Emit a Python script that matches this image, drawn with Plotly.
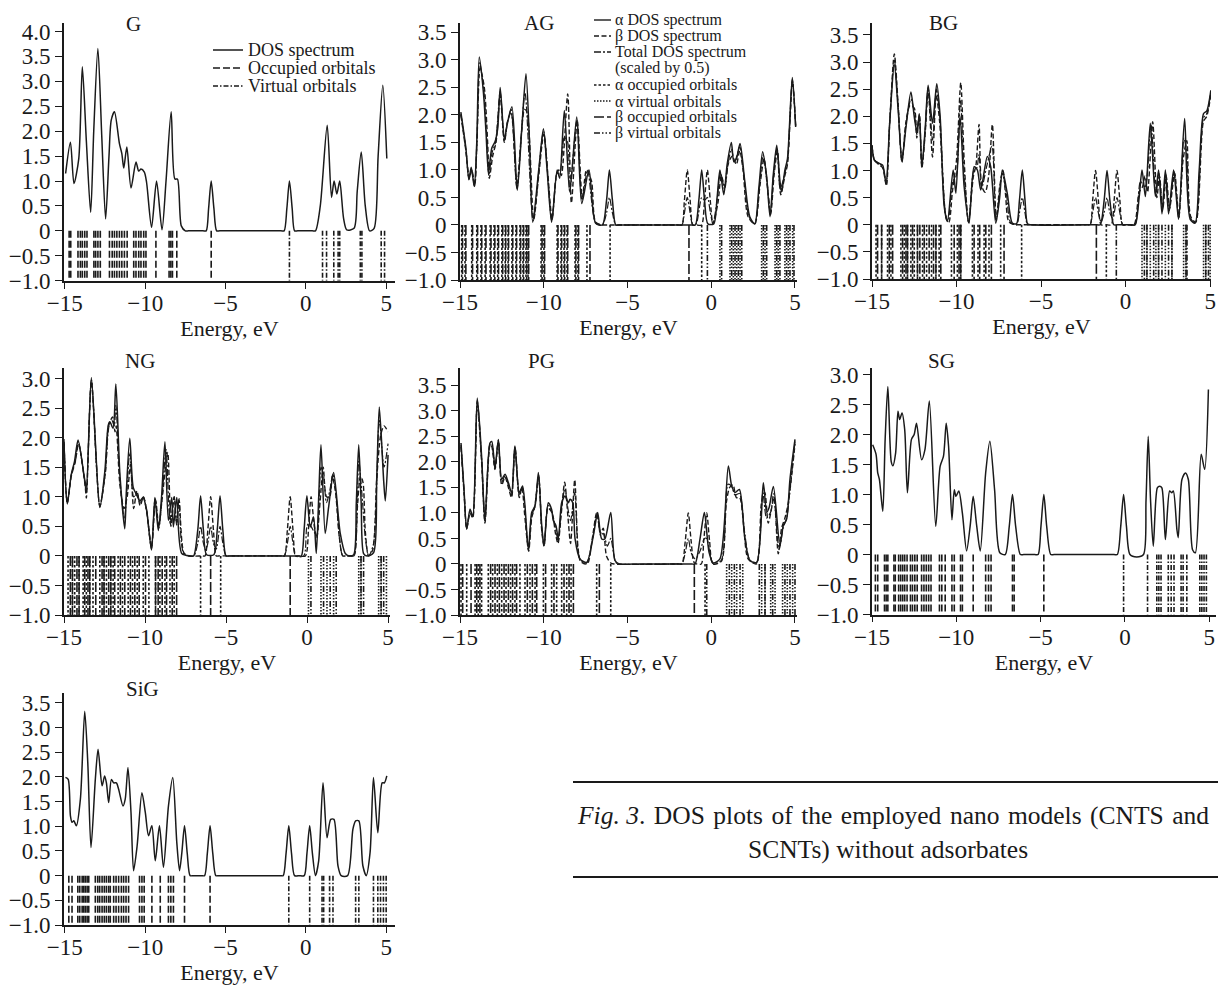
import plotly.graph_objects as go

W, H = 1218, 985
FONT = "Liberation Serif"
INK = "#1a1a1a"

# ---------------- data (energies in eV, DOS in arbitrary units) ----------------
X_TICKS = [-15, -10, -5, 0, 5]
X_TICKTEXT = ["\u221215", "\u221210", "\u22125", "0", "5"]
Y_TICKS = [4.0, 3.5, 3.0, 2.5, 2.0, 1.5, 1.0, 0.5, 0.0, -0.5, -1.0]
Y_TICKTEXT = ["4.0", "3.5", "3.0", "2.5", "2.0", "1.5", "1.0", "0.5", "0",
              "\u22120.5", "\u22121.0"]

# --- G ---
G_dos = [(-14.95, 1.15), (-14.65, 1.78), (-14.43, 0.95), (-14.13, 1.45), (-13.91, 3.29),
         (-13.66, 1.81), (-13.39, 0.37), (-13.2, 2.0), (-12.94, 3.66), (-12.7, 1.9),
         (-12.46, 0.24), (-12.25, 1.5), (-12.11, 2.22), (-11.91, 2.39), (-11.6, 1.75),
         (-11.45, 1.55), (-11.33, 1.26), (-11.14, 1.68), (-10.88, 0.86), (-10.57, 1.38),
         (-10.40, 1.2), (-10.26, 1.24), (-10.05, 1.18), (-9.91, 0.97), (-9.6, 0.07),
         (-9.29, 1.0), (-8.95, 0.02), (-8.7, 1.0), (-8.38, 2.39), (-8.15, 1.04),
         (-7.99, 1.04), (-7.75, 0.1), (-7.5, 0.0), (-7.3, 0.0), (-6.4, 0.0), (-6.2, 0.0),
         (-6.05, 0.45), (-5.89, 1.0), (-5.72, 0.45), (-5.55, 0.0), (-5.35, 0.0),
         (-1.55, 0.0), (-1.35, 0.0), (-1.18, 0.45), (-1.02, 1.0), (-0.85, 0.45),
         (-0.7, 0.0), (-0.5, 0.0), (0.4, 0.0), (0.6, 0.0), (0.9, 0.5),
         (1.33, 2.12), (1.6, 0.67), (1.76, 1.0), (1.93, 0.74), (2.11, 1.0),
         (2.35, 0.25), (2.55, 0.02), (3.0, 0.05), (3.2, 0.8), (3.45, 1.58),
         (3.7, 0.5), (3.97, 0.0), (4.25, 0.05), (4.5, 1.5), (4.79, 2.92), (5.04, 1.45)]
G_occ = [-14.73, -14.63, -14.18, -14.03, -13.91, -13.76, -13.62, -13.19, -13.08, -12.94,
         -12.79, -12.22, -12.05, -11.91, -11.76, -11.60, -11.45, -11.29, -11.12, -10.71,
         -10.57, -10.40, -10.26, -10.09, -9.95, -9.33, -8.51, -8.40, -8.30, -8.03, -5.89]
G_virt = [-1.02, 1.04, 1.29, 1.74, 2.01, 2.11, 3.39, 3.49, 4.69, 4.90]

# --- AG ---
AG_alpha = [(-14.95, 2.05), (-14.65, 1.4), (-14.47, 0.82), (-14.33, 1.05), (-14.15, 0.7),
            (-14.0, 1.5), (-13.85, 3.05), (-13.6, 2.4), (-13.45, 1.7), (-13.3, 0.95),
            (-13.1, 1.4), (-12.9, 1.52), (-12.75, 1.75), (-12.6, 2.5), (-12.35, 1.55),
            (-12.2, 1.8), (-11.9, 2.15), (-11.58, 0.63), (-11.3, 1.8), (-11.06, 2.75),
            (-10.85, 1.5), (-10.66, 0.05), (-10.3, 1.0), (-10.02, 1.75), (-9.8, 1.0),
            (-9.53, 0.05), (-9.2, 1.0), (-9.05, 0.85), (-8.77, 2.08), (-8.45, 0.6),
            (-8.03, 1.96), (-7.73, 0.39), (-7.3, 1.0), (-6.9, 0.03), (-6.5, 0.0),
            (-6.25, 0.45), (-6.08, 1.0), (-5.9, 0.45), (-5.7, 0.0), (-5.5, 0.0),
            (-1.15, 0.0), (-0.95, 0.0),
            (-0.74, 0.45), (-0.57, 1.0), (-0.4, 0.45), (-0.2, 0.02), (0.15, 0.02),
            (0.35, 0.5), (0.52, 1.0), (0.75, 0.55), (0.95, 1.1), (1.2, 1.5),
            (1.35, 1.15), (1.5, 1.2), (1.72, 1.48), (2.0, 0.8), (2.3, 0.15),
            (2.6, 0.02), (2.85, 0.7), (3.07, 1.33), (3.3, 0.9), (3.51, 0.15),
            (3.7, 0.9), (3.91, 1.45), (4.1, 0.8), (4.2, 0.6), (4.4, 1.0),
            (4.55, 1.2), (4.84, 2.68), (5.04, 1.78)]
AG_beta = [(-14.95, 2.0), (-14.65, 1.35), (-14.45, 0.85), (-14.3, 1.0), (-14.12, 0.72),
           (-13.98, 1.6), (-13.8, 2.85), (-13.55, 2.5), (-13.35, 1.5), (-13.25, 0.85),
           (-13.05, 1.25), (-12.85, 1.5), (-12.6, 2.35), (-12.35, 1.5), (-12.15, 1.9),
           (-11.95, 2.05), (-11.6, 0.7), (-11.35, 1.6), (-11.15, 2.1), (-11.0, 2.05),
           (-10.6, 0.1), (-10.3, 0.9), (-10.0, 1.65), (-9.75, 0.9), (-9.5, 0.1),
           (-9.25, 0.9), (-9.1, 1.0), (-8.95, 0.9), (-8.57, 2.38), (-8.35, 0.4),
           (-8.0, 1.9), (-7.7, 0.5), (-7.45, 1.0), (-7.15, 0.8), (-6.9, 0.05),
           (-6.5, 0.0), (-6.3, 0.0), (-1.95, 0.0), (-1.75, 0.0), (-1.6, 0.45),
           (-1.43, 1.0), (-1.26, 0.45), (-1.1, 0.0), (-0.9, 0.0), (-0.58, 0.0),
           (-0.4, 0.45), (-0.23, 1.0), (-0.06, 0.45),
           (0.1, 0.02), (0.4, 0.4), (0.6, 0.9), (0.8, 0.7), (1.0, 1.1),
           (1.25, 1.25), (1.5, 1.1), (1.7, 1.35), (1.9, 1.0), (2.2, 0.15),
           (2.6, 0.02), (2.9, 0.7), (3.15, 1.2), (3.35, 0.7), (3.55, 0.2),
           (3.75, 0.9), (3.95, 1.35), (4.15, 0.55), (4.4, 0.9), (4.55, 1.1),
           (4.85, 2.6), (5.04, 1.8)]
AG_total = [(-14.95, 2.02), (-14.65, 1.38), (-14.46, 0.83), (-14.32, 1.02), (-14.13, 0.7),
            (-13.98, 1.55), (-13.83, 2.95), (-13.58, 2.45), (-13.4, 1.6), (-13.28, 0.9),
            (-13.08, 1.32), (-12.88, 1.5), (-12.6, 2.42), (-12.35, 1.52), (-12.18, 1.85),
            (-11.95, 2.1), (-11.6, 0.66), (-11.12, 2.4), (-10.63, 0.08), (-10.01, 1.7),
            (-9.52, 0.08), (-9.2, 0.95), (-9.05, 0.9), (-8.77, 1.6), (-8.57, 1.5),
            (-8.45, 0.6), (-8.02, 1.9), (-7.72, 0.45), (-7.38, 1.0), (-6.9, 0.04),
            (-6.5, 0.0), (-6.25, 0.22), (-6.08, 0.5), (-5.9, 0.22), (-5.7, 0.0),
            (-5.5, 0.0), (-1.95, 0.0),
            (-1.75, 0.0), (-1.6, 0.22), (-1.43, 0.5), (-1.26, 0.22), (-1.1, 0.0),
            (-0.9, 0.02), (-0.57, 0.5), (-0.4, 0.45), (-0.23, 0.5), (-0.05, 0.22),
            (0.1, 0.02), (0.35, 0.45), (0.55, 0.95), (0.8, 0.65), (1.0, 1.1),
            (1.2, 1.38), (1.4, 1.15), (1.7, 1.42), (1.95, 0.9), (2.25, 0.15),
            (2.6, 0.02), (2.88, 0.7), (3.1, 1.27), (3.33, 0.8), (3.53, 0.18),
            (3.72, 0.9), (3.93, 1.4), (4.12, 0.65), (4.4, 0.95), (4.55, 1.15),
            (4.84, 2.64), (5.04, 1.79)]
AG_a_occ = [-14.9, -14.7, -14.3, -14.0, -13.75, -13.5, -13.2, -12.97, -12.75, -12.5,
            -12.3, -12.13, -11.9, -11.66, -11.42, -11.24, -11.06, -10.94, -10.16, -9.99,
            -9.2, -8.97, -8.79, -8.61, -8.13, -7.96, -7.42, -6.04, -0.57]
AG_a_virt = [0.52, 1.12, 1.32, 1.52, 1.72, 3.01, 3.21, 3.81, 4.0, 4.4, 4.6, 4.86]
AG_b_occ = [-14.85, -14.65, -14.25, -13.95, -13.7, -13.45, -13.15, -12.92, -12.7, -12.45,
            -12.27, -12.1, -11.85, -11.62, -11.38, -11.2, -11.02, -10.9, -10.1, -9.95,
            -9.15, -8.93, -8.75, -8.57, -8.08, -7.92, -7.24, -1.33]
AG_b_virt = [-0.23, 0.62, 1.22, 1.42, 1.62, 1.82, 3.11, 3.31, 3.91, 4.1, 4.5, 4.7, 4.94]

# --- BG ---
BG_alpha = [(-15.0, 1.47), (-14.86, 1.19), (-14.57, 1.13), (-14.37, 1.1), (-14.17, 0.77),
            (-13.95, 1.9), (-13.68, 2.95), (-13.45, 2.1), (-13.23, 1.19), (-12.99, 1.8),
            (-12.7, 2.45), (-12.5, 1.99), (-12.35, 1.72), (-12.2, 2.02), (-12.05, 1.07),
            (-11.85, 1.8), (-11.68, 2.57), (-11.42, 1.87), (-11.17, 2.6), (-10.97, 2.0),
            (-10.73, 0.34), (-10.54, 0.06), (-10.2, 1.01), (-10.04, 0.58), (-9.79, 2.0),
            (-9.55, 0.7), (-9.26, 0.03), (-8.96, 1.07), (-8.77, 1.01), (-8.57, 0.64),
            (-8.18, 1.26), (-7.98, 1.07), (-7.68, 0.03), (-7.45, 0.5), (-7.29, 1.01),
            (-7.0, 0.58), (-6.7, 0.03), (-6.45, 0.02), (-6.28, 0.45), (-6.11, 1.01),
            (-5.95, 0.45), (-5.8, 0.02), (-5.6, 0.0), (-1.7, 0.0), (-1.5, 0.0),
            (-1.27, 0.45), (-1.1, 1.0), (-0.93, 0.45), (-0.7, 0.0), (-0.5, 0.0),
            (0.37, 0.0), (0.57, 0.0), (0.8, 0.5), (0.97, 1.01),
            (1.17, 0.52), (1.46, 1.87), (1.76, 0.52), (1.95, 1.01), (2.15, 0.2),
            (2.35, 1.01), (2.54, 0.2), (2.84, 1.01), (3.13, 0.1), (3.49, 1.96),
            (3.82, 0.1), (4.11, 0.03), (4.35, 1.0), (4.61, 2.05), (4.8, 2.1), (5.04, 2.48)]
BG_beta = [(-15.0, 1.45), (-14.86, 1.2), (-14.57, 1.1), (-14.37, 1.05), (-14.15, 0.72),
           (-13.95, 1.9), (-13.68, 3.15), (-13.45, 2.2), (-13.23, 1.15), (-12.99, 1.9),
           (-12.75, 2.2), (-12.5, 2.15), (-12.35, 1.6), (-12.2, 2.05), (-12.05, 1.05),
           (-11.85, 1.7), (-11.68, 2.5), (-11.42, 1.25), (-11.2, 2.4), (-11.0, 1.9),
           (-10.6, 0.1), (-10.45, 0.05), (-10.25, 0.6), (-10.0, 1.2), (-9.75, 2.62),
           (-9.55, 1.2), (-9.3, 0.05), (-9.0, 0.9), (-8.85, 1.1), (-8.67, 1.85),
           (-8.5, 0.7), (-8.3, 0.6), (-8.1, 0.9), (-7.88, 1.85), (-7.65, 0.1),
           (-7.45, 0.7), (-7.25, 1.0), (-7.1, 0.55), (-6.9, 0.05), (-6.5, 0.0),
           (-6.3, 0.0), (-2.3, 0.0),
           (-2.1, 0.0), (-1.95, 0.45), (-1.78, 1.0), (-1.61, 0.45), (-1.45, 0.0),
           (-1.15, 0.0),
           (-0.85, 0.0), (-0.68, 0.45), (-0.51, 1.0), (-0.34, 0.45), (-0.17, 0.0),
           (0.15, 0.0),
           (0.5, 0.0), (0.8, 0.6), (1.0, 0.7), (1.15, 0.9), (1.3, 0.6), (1.6, 1.9),
           (1.85, 0.5), (2.0, 0.9), (2.2, 0.3), (2.4, 0.9), (2.6, 0.3), (2.9, 0.95),
           (3.15, 0.15), (3.4, 1.2), (3.62, 1.55), (3.85, 0.15), (4.15, 0.05),
           (4.6, 1.9), (4.8, 2.0), (5.04, 2.4)]
BG_total = [(-15.0, 1.46), (-14.86, 1.2), (-14.57, 1.12), (-14.37, 1.08), (-14.16, 0.75),
            (-13.95, 1.9), (-13.68, 3.05), (-13.45, 2.15), (-13.23, 1.17), (-12.99, 1.85),
            (-12.7, 2.32), (-12.5, 2.07), (-12.35, 1.66), (-12.2, 2.03), (-12.05, 1.06),
            (-11.85, 1.75), (-11.68, 2.53), (-11.42, 1.56), (-11.19, 2.5), (-10.98, 1.95),
            (-10.65, 0.2), (-10.5, 0.06), (-10.22, 0.8), (-10.02, 0.9), (-9.77, 2.3),
            (-9.55, 0.95), (-9.28, 0.04), (-8.98, 1.0), (-8.8, 1.05), (-8.67, 1.3),
            (-8.52, 0.67), (-8.2, 1.1), (-7.9, 1.45), (-7.66, 0.06), (-7.3, 0.95),
            (-7.05, 0.57), (-6.8, 0.04), (-6.45, 0.0), (-6.28, 0.22), (-6.11, 0.5),
            (-5.95, 0.22), (-5.8, 0.0), (-5.6, 0.0), (-2.3, 0.0),
            (-2.1, 0.0), (-1.95, 0.22), (-1.78, 0.5),
            (-1.61, 0.22), (-1.45, 0.05), (-1.27, 0.22), (-1.1, 0.5), (-0.93, 0.22),
            (-0.75, 0.12), (-0.51, 0.5), (-0.34, 0.22), (-0.17, 0.0), (0.2, 0.0),
            (0.55, 0.0),
            (0.88, 0.8), (1.15, 0.7), (1.5, 1.85), (1.78, 0.55), (1.97, 0.95),
            (2.18, 0.25), (2.37, 0.95), (2.57, 0.25), (2.87, 0.98), (3.14, 0.12),
            (3.45, 1.6), (3.62, 1.3), (3.84, 0.12), (4.13, 0.04), (4.6, 1.97),
            (4.8, 2.05), (5.04, 2.44)]
BG_a_occ = [-14.76, -14.43, -14.08, -13.88, -13.29, -13.09, -12.9, -12.7, -12.5, -12.31,
            -12.01, -11.77, -11.48, -11.22, -11.03, -10.3, -9.95, -9.75, -9.06, -8.73,
            -8.37, -8.08, -7.39, -6.15, -1.14]
BG_a_virt = [0.97, 1.26, 1.46, 1.79, 1.95, 2.35, 2.74, 3.43, 3.57, 4.61, 4.74, 5.0]
BG_b_occ = [-14.67, -14.43, -13.98, -13.78, -13.19, -12.99, -12.9, -12.6, -12.31, -12.17,
            -11.91, -11.62, -11.36, -11.22, -10.93, -10.14, -9.85, -9.75, -8.96, -8.63,
            -8.27, -7.94, -7.19, -1.73]
BG_b_virt = [-0.55, 1.11, 1.26, 1.66, 1.95, 2.15, 2.54, 2.74, 3.57, 3.63, 4.74, 4.9]

# --- NG ---
NG_alpha = [(-15.0, 1.93), (-14.8, 0.88), (-14.55, 1.38), (-14.35, 1.6), (-14.13, 1.96),
            (-13.74, 1.32), (-13.62, 1.16), (-13.31, 3.02), (-12.79, 0.82), (-12.48, 1.43),
            (-12.27, 2.21), (-12.17, 2.27), (-11.97, 2.16), (-11.8, 2.91), (-11.55, 1.38),
            (-11.25, 0.46), (-11.15, 1.1), (-10.94, 1.99), (-10.73, 1.16), (-10.53, 1.04),
            (-10.32, 0.93), (-10.12, 0.99), (-9.91, 0.79), (-9.6, 0.1), (-9.39, 0.99),
            (-9.18, 0.43), (-8.98, 0.99), (-8.77, 1.93), (-8.56, 0.6), (-8.35, 0.99),
            (-8.25, 0.49), (-8.04, 0.99), (-7.73, 0.04), (-7.2, 0.0), (-7.0, 0.0),
            (-6.74, 0.45),
            (-6.57, 1.02), (-6.4, 0.45), (-6.2, 0.02), (-5.75, 0.02), (-5.54, 0.45),
            (-5.37, 1.02), (-5.2, 0.45), (-5.0, 0.0), (-4.8, 0.0), (-0.55, 0.0),
            (-0.35, 0.0), (-0.18, 0.45),
            (-0.01, 1.02), (0.2, 0.49), (0.4, 0.66), (0.57, 0.04), (0.72, 1.0),
            (0.86, 1.88), (1.12, 0.38), (1.33, 0.82), (1.64, 1.41), (2.05, 0.38),
            (2.36, 0.04), (2.6, 0.0), (2.88, 0.02), (3.04, 0.9), (3.19, 1.88), (3.34, 0.9),
            (3.49, 0.04), (3.7, 0.0), (4.1, 0.05), (4.3, 1.3), (4.46, 2.52), (4.73, 1.27),
            (4.83, 0.93), (5.0, 1.71)]
NG_beta = [(-15.0, 1.9), (-14.8, 0.9), (-14.55, 1.35), (-14.3, 1.6), (-14.1, 1.9),
           (-13.7, 1.2), (-13.62, 0.98), (-13.31, 2.95), (-12.79, 0.85), (-12.45, 1.4),
           (-12.25, 2.2), (-12.0, 2.35), (-11.85, 2.1), (-11.78, 2.2), (-11.55, 1.2),
           (-11.3, 0.8), (-11.1, 1.0), (-10.9, 1.55), (-10.7, 0.8), (-10.5, 1.1),
           (-10.3, 0.85), (-10.1, 1.0), (-9.9, 0.75), (-9.6, 0.15), (-9.35, 0.95),
           (-9.15, 0.5), (-8.95, 0.95), (-8.6, 1.75), (-8.4, 0.5), (-8.2, 1.0),
           (-8.05, 0.55), (-7.9, 0.95), (-7.6, 0.05), (-7.3, 0.0), (-6.5, 0.0), (-6.3, 0.0),
           (-6.12, 0.45), (-5.95, 1.0), (-5.78, 0.45), (-5.6, 0.0), (-5.4, 0.0),
           (-1.6, 0.0), (-1.4, 0.0),
           (-1.21, 0.45), (-1.04, 1.0), (-0.87, 0.45), (-0.7, 0.0), (-0.5, 0.0),
           (-0.1, 0.0),
           (0.1, 0.5), (0.25, 1.0), (0.45, 0.5), (0.6, 0.3), (0.8, 0.9), (1.0, 1.5),
           (1.2, 1.0), (1.4, 1.0), (1.55, 1.35), (1.75, 1.1), (2.0, 0.3), (2.2, 0.0),
           (2.4, 0.0), (2.7, 0.0),
           (2.9, 0.0), (3.1, 0.8), (3.3, 1.35), (3.45, 1.25), (3.6, 0.4), (3.8, 0.0),
           (4.05, 0.1), (4.3, 1.3), (4.55, 2.05), (4.75, 2.2), (5.0, 2.1)]
NG_total = [(-15.0, 1.98), (-14.8, 0.89), (-14.55, 1.37), (-14.3, 1.6), (-14.12, 1.93),
            (-13.72, 1.25), (-13.62, 1.07), (-13.31, 2.98), (-12.79, 0.83), (-12.45, 1.42),
            (-12.22, 2.2), (-12.05, 2.3), (-11.9, 2.2), (-11.8, 2.55), (-11.55, 1.3),
            (-11.27, 0.63), (-10.94, 1.75), (-10.7, 1.0), (-10.5, 1.07), (-10.3, 0.9),
            (-10.1, 1.0), (-9.9, 0.77), (-9.6, 0.12), (-9.38, 0.97), (-9.15, 0.47),
            (-8.95, 0.97), (-8.7, 1.8), (-8.45, 0.55), (-8.2, 1.0), (-8.05, 0.52),
            (-7.9, 0.97), (-7.6, 0.04), (-7.0, 0.0), (-6.74, 0.22), (-6.57, 0.5),
            (-6.4, 0.22), (-6.25, 0.1), (-6.12, 0.22), (-5.95, 0.5), (-5.78, 0.22),
            (-5.6, 0.12), (-5.37, 0.5), (-5.2, 0.22), (-5.0, 0.0), (-4.8, 0.0),
            (-1.6, 0.0), (-1.4, 0.0),
            (-1.21, 0.22), (-1.04, 0.5), (-0.87, 0.22), (-0.7, 0.0), (-0.2, 0.0),
            (-0.01, 0.5), (0.12, 0.55), (0.25, 0.5), (0.45, 0.4), (0.6, 0.35),
            (0.86, 1.5), (1.0, 1.4), (1.2, 0.9), (1.4, 1.1), (1.6, 1.38), (1.8, 1.0),
            (2.0, 0.3), (2.2, 0.0), (2.4, 0.0), (2.7, 0.0), (2.9, 0.0), (3.19, 1.6),
            (3.4, 1.0), (3.6, 0.3),
            (3.8, 0.0), (4.1, 0.2), (4.46, 2.3), (4.75, 1.5), (5.0, 1.9)]
NG_a_occ = [-14.75, -14.48, -14.34, -14.07, -13.82, -13.62, -13.41, -13.21, -12.79, -12.53,
            -12.38, -12.11, -11.97, -11.66, -11.39, -11.04, -10.77, -10.48, -10.11, -9.76,
            -9.35, -9.08, -8.77, -8.46, -8.2, -6.57, -5.33]
NG_a_virt = [0.09, 0.86, 1.23, 1.64, 3.19, 3.33, 4.42, 4.57, 4.9]
NG_b_occ = [-14.61, -14.48, -14.2, -14.07, -13.72, -13.52, -13.41, -13.04, -12.65, -12.53,
            -12.24, -12.11, -11.87, -11.52, -11.25, -10.9, -10.63, -10.36, -9.97, -9.35,
            -9.19, -8.94, -8.67, -8.32, -8.05, -5.95, -1.04]
NG_b_virt = [0.24, 1.02, 1.43, 1.8, 3.33, 3.49, 4.57, 4.73]

# --- PG ---
PG_alpha = [(-14.94, 2.37), (-14.76, 1.46), (-14.6, 0.68), (-14.4, 1.07), (-14.24, 0.94),
            (-13.97, 3.25), (-13.71, 2.11), (-13.51, 0.85), (-13.21, 2.37), (-13.1, 2.4),
            (-12.91, 1.89), (-12.71, 2.44), (-12.51, 1.66), (-12.31, 1.76), (-12.11, 1.59),
            (-11.92, 1.4), (-11.72, 2.31), (-11.46, 1.4), (-11.26, 1.53), (-10.92, 0.29),
            (-10.72, 1.01), (-10.52, 1.14), (-10.32, 1.79), (-10.12, 0.75), (-9.98, 0.36),
            (-9.73, 1.2), (-9.53, 1.07), (-9.43, 0.85), (-9.27, 0.75), (-9.13, 0.49),
            (-8.93, 1.2), (-8.73, 1.33), (-8.53, 1.2), (-8.43, 1.27), (-8.27, 1.2),
            (-8.13, 0.49), (-7.84, 0.1), (-7.44, 0.03), (-7.04, 0.55), (-6.78, 1.01),
            (-6.54, 0.49), (-6.35, 0.49), (-6.0, 1.01), (-5.75, 0.07), (-5.5, 0.0),
            (-4.65, 0.0), (-1.17, 0.0),
            (-0.97, 0.0), (-0.67, 0.49), (-0.41, 1.01), (-0.13, 0.23), (0.12, 0.02),
            (0.52, 0.1), (1.02, 1.92), (1.22, 1.53), (1.42, 1.4), (1.68, 1.46),
            (2.01, 0.49), (2.31, 0.07), (2.71, 0.03), (3.11, 1.59), (3.31, 1.01),
            (3.45, 1.1), (3.71, 1.52), (4.1, 0.36), (4.3, 0.75), (4.5, 0.88),
            (4.7, 1.66), (5.0, 2.44)]
PG_beta = [(-14.94, 2.3), (-14.76, 1.4), (-14.6, 0.7), (-14.4, 1.0), (-14.24, 0.9),
           (-13.97, 3.15), (-13.71, 2.0), (-13.51, 0.8), (-13.2, 2.35), (-13.1, 2.3),
           (-12.91, 1.85), (-12.71, 2.4), (-12.51, 1.55), (-12.31, 1.7), (-12.11, 1.5),
           (-11.92, 1.3), (-11.72, 2.3), (-11.46, 1.3), (-11.3, 1.5), (-11.15, 1.0),
           (-10.9, 0.25), (-10.72, 0.9), (-10.55, 1.1), (-10.3, 1.7), (-10.12, 0.65),
           (-9.98, 0.35), (-9.75, 1.1), (-9.5, 1.0), (-9.3, 0.6), (-9.15, 0.4),
           (-8.95, 1.0), (-8.75, 1.6), (-8.55, 0.9), (-8.4, 0.4), (-8.15, 1.65),
           (-7.95, 0.3), (-7.8, 0.05), (-7.4, 0.0), (-7.1, 0.5), (-6.84, 1.0),
           (-6.6, 0.6), (-6.45, 0.7), (-6.25, 0.15), (-6.0, 0.02), (-5.8, 0.0),
           (-1.95, 0.0), (-1.75, 0.0),
           (-1.55, 0.45), (-1.37, 1.0), (-1.2, 0.45), (-1.0, 0.02), (-0.6, 0.0),
           (-0.45, 0.45), (-0.27, 1.0), (-0.1, 0.45), (0.1, 0.0), (0.6, 0.05),
           (0.9, 1.2), (1.1, 1.5), (1.3, 1.55), (1.5, 1.3), (1.7, 1.3), (1.95, 0.7),
           (2.2, 0.1), (2.7, 0.0), (3.0, 1.2), (3.2, 1.4), (3.4, 0.8), (3.55, 1.0),
           (3.75, 1.3), (4.0, 0.2), (4.2, 0.7), (4.4, 0.9), (4.6, 1.2), (5.0, 2.35)]
PG_total = [(-14.94, 2.33), (-14.76, 1.43), (-14.6, 0.69), (-14.4, 1.03), (-14.24, 0.92),
            (-13.97, 3.2), (-13.71, 2.05), (-13.51, 0.84), (-13.2, 2.36), (-13.1, 2.35),
            (-12.91, 1.87), (-12.71, 2.42), (-12.51, 1.6), (-12.31, 1.73), (-12.11, 1.55),
            (-11.92, 1.35), (-11.72, 2.3), (-11.46, 1.35), (-11.28, 1.5), (-10.91, 0.27),
            (-10.72, 0.95), (-10.53, 1.12), (-10.31, 1.75), (-10.12, 0.7), (-9.98, 0.35),
            (-9.74, 1.15), (-9.52, 1.03), (-9.28, 0.67), (-9.14, 0.45), (-8.94, 1.1),
            (-8.74, 1.47), (-8.54, 1.05), (-8.4, 0.85), (-8.15, 1.4), (-7.95, 0.25),
            (-7.8, 0.07), (-7.44, 0.02), (-7.07, 0.52), (-6.82, 1.0), (-6.6, 0.55),
            (-6.45, 0.6), (-6.2, 0.35), (-6.0, 0.5), (-5.85, 0.25), (-5.7, 0.03),
            (-5.5, 0.0), (-1.95, 0.0),
            (-1.75, 0.0), (-1.55, 0.22), (-1.37, 0.5), (-1.2, 0.22), (-0.95, 0.1),
            (-0.67, 0.25), (-0.41, 0.5), (-0.27, 0.5), (-0.1, 0.25), (0.1, 0.01),
            (0.6, 0.07), (1.0, 1.56), (1.22, 1.52), (1.42, 1.35), (1.68, 1.38),
            (2.0, 0.6), (2.3, 0.08), (2.7, 0.02), (3.08, 1.4), (3.3, 0.9), (3.55, 1.02),
            (3.72, 1.38), (4.05, 0.28), (4.3, 0.72), (4.5, 0.89), (4.7, 1.45), (5.0, 2.4)]
PG_a_occ = [-14.94, -14.6, -14.1, -13.91, -13.71, -13.31, -13.05, -12.77, -12.51, -12.25,
            -11.98, -11.72, -11.42, -11.12, -10.82, -10.52, -10.02, -9.53, -9.23, -8.93,
            -8.63, -8.37, -6.84, -6.0, -0.37]
PG_a_virt = [0.92, 1.22, 1.52, 1.88, 3.01, 3.21, 3.55, 3.81, 4.26, 4.54, 4.86]
PG_b_occ = [-14.84, -14.34, -14.0, -13.81, -13.17, -12.91, -12.65, -12.37, -12.11, -11.86,
            -11.62, -10.98, -10.68, -10.42, -9.89, -9.39, -8.79, -8.49, -8.23, -6.68, -1.01]
PG_b_virt = [-0.27, 1.08, 1.38, 1.72, 2.87, 3.21, 3.67, 4.4, 4.7, 5.0]

# --- SG ---
SG_dos = [(-14.96, 1.83), (-14.76, 1.67), (-14.66, 1.36), (-14.56, 1.25), (-14.36, 0.72),
          (-14.22, 1.92), (-14.06, 2.8), (-13.86, 1.55), (-13.76, 1.48), (-13.6, 1.69),
          (-13.46, 2.39), (-13.36, 2.25), (-13.22, 2.36), (-13.06, 2.08), (-12.9, 1.03),
          (-12.66, 1.92), (-12.5, 2.0), (-12.36, 2.19), (-12.06, 1.58), (-11.86, 1.75),
          (-11.6, 2.56), (-11.22, 0.47), (-10.96, 1.47), (-10.76, 1.64), (-10.6, 2.19),
          (-10.46, 1.81), (-10.26, 0.58), (-10.12, 1.08), (-10.02, 0.97), (-9.85, 1.06),
          (-9.64, 0.69), (-9.39, 0.06), (-9.17, 0.5), (-9.0, 0.97), (-8.8, 0.5),
          (-8.58, 0.06), (-8.26, 1.36), (-8.01, 1.89), (-7.73, 1.08), (-7.42, 0.03),
          (-7.1, 0.0), (-6.86, 0.47), (-6.67, 1.0), (-6.48, 0.47), (-6.2, 0.0),
          (-6.0, 0.0), (-5.35, 0.0),
          (-5.15, 0.0), (-4.98, 0.47), (-4.81, 1.0), (-4.64, 0.47), (-4.4, 0.0),
          (-4.2, 0.0), (-0.65, 0.0),
          (-0.45, 0.0), (-0.25, 0.47), (-0.08, 1.0), (0.09, 0.47), (0.3, 0.0),
          (0.7, -0.04), (1.1, 0.0), (1.25, 0.9), (1.38, 1.97), (1.52, 0.9),
          (1.68, 0.14), (1.92, 1.11), (2.06, 1.14), (2.19, 1.11), (2.4, 0.25),
          (2.65, 1.06), (2.77, 1.03), (2.87, 1.06), (3.08, 0.42), (3.16, 0.28),
          (3.38, 1.25), (3.59, 1.36), (3.76, 1.25), (4.01, 0.08), (4.18, 0.03),
          (4.52, 1.67), (4.73, 1.42), (4.95, 2.75)]
SG_occ = [-14.8, -14.66, -14.26, -14.16, -14.06, -13.7, -13.62, -13.42, -13.3, -13.18,
          -13.06, -12.92, -12.72, -12.6, -12.46, -12.32, -12.06, -11.92, -11.78, -11.64,
          -11.5, -11.0, -10.86, -10.66, -10.26, -10.12, -9.75, -9.64, -9.0, -8.26, -8.09,
          -7.94, -6.67, -6.57, -4.81]
SG_virt = [-0.08, 1.34, 1.89, 2.01, 2.14, 2.57, 2.74, 2.91, 3.33, 3.45, 3.67, 4.44,
           4.56, 4.69, 4.83]

# --- SiG ---
SiG_dos = [(-14.96, 1.99), (-14.79, 1.95), (-14.65, 1.21), (-14.55, 1.08), (-14.44, 1.11),
           (-14.28, 1.01), (-14.03, 1.55), (-13.76, 3.33), (-13.57, 2.29), (-13.37, 0.57),
           (-13.1, 1.95), (-12.93, 2.56), (-12.68, 1.82), (-12.52, 2.02), (-12.41, 1.88),
           (-12.27, 1.48), (-12.1, 1.95), (-11.96, 1.88), (-11.79, 1.88), (-11.65, 1.75),
           (-11.38, 1.41), (-11.24, 1.55), (-11.07, 2.19), (-10.88, 1.28), (-10.72, 0.1),
           (-10.5, 0.6), (-10.2, 1.68), (-9.99, 1.28), (-9.79, 0.81), (-9.58, 1.01),
           (-9.37, 0.3), (-9.11, 1.01), (-8.86, 0.17), (-8.55, 1.41), (-8.28, 1.99),
           (-8.03, 0.67), (-7.86, 0.1), (-7.72, 0.45), (-7.55, 1.01), (-7.38, 0.45),
           (-7.2, 0.0), (-7.0, 0.0), (-6.5, 0.0), (-6.3, 0.0), (-6.13, 0.45),
           (-5.96, 1.01), (-5.79, 0.45), (-5.6, 0.0), (-5.4, 0.0), (-1.6, 0.0),
           (-1.41, 0.0), (-1.23, 0.45), (-1.06, 1.01), (-0.89, 0.45),
           (-0.7, 0.0), (-0.4, 0.0), (-0.1, 0.0), (0.07, 0.45), (0.24, 1.01), (0.41, 0.45),
           (0.6, 0.0), (0.8, 0.3), (1.07, 1.88), (1.32, 0.77), (1.55, 1.14),
           (1.75, 1.14), (2.0, 0.2), (2.2, 0.0), (2.6, 0.0), (2.93, 0.94), (3.1, 1.11),
           (3.3, 1.11), (3.55, 0.2), (3.76, 0.0), (4.0, 0.47), (4.21, 1.99),
           (4.48, 0.87), (4.75, 1.88), (4.89, 1.88), (5.04, 2.02)]
SiG_occ = [-14.75, -14.55, -14.19, -14.07, -13.92, -13.82, -13.72, -13.61, -13.51, -13.1,
           -12.95, -12.83, -12.68, -12.54, -12.41, -12.27, -12.17, -11.96, -11.81, -11.65,
           -11.48, -11.34, -11.19, -11.03, -10.35, -10.2, -10.06, -9.58, -9.06, -8.55,
           -8.4, -8.24, -7.55, -5.96]
SiG_virt = [-1.06, 0.24, 1.01, 1.11, 1.48, 1.69, 3.1, 3.3, 4.21, 4.48, 4.65, 4.83, 5.0]

# ---------------- styles & layout geometry (pixels) ----------------
DASH_OCC = "7px,3px"
DASH_VIRT = "5px,2px,1.5px,2px"
DASH_BETA = "5px,2.5px"
DASH_TOTAL = "7px,2px,2px,2px"
DASH_A_OCC = "2.5px,2px"
DASH_A_VIRT = "1.5px,1.5px"
DASH_B_OCC = "10px,3px"
DASH_B_VIRT = "6px,2px,1.5px,2px,1.5px,2px"

PANELS = [
    dict(name="G", kind="single", box=(64, 395, 23, 280.7), xr=(-15.05, 5.55),
         yr=(-1, 4.17), ytop=4.0, title=(133, 24)),
    dict(name="AG", kind="spin", box=(460, 797, 23, 280), xr=(-15, 5.12),
         yr=(-1, 3.67), ytop=3.5, title=(539, 23)),
    dict(name="BG", kind="spin", box=(872, 1211, 23, 279), xr=(-15, 5.05),
         yr=(-1, 3.72), ytop=3.5, title=(943, 23)),
    dict(name="NG", kind="spin", box=(64, 390, 368, 615), xr=(-15, 5.12),
         yr=(-1, 3.18), ytop=3.0, title=(140, 361)),
    dict(name="PG", kind="spin", box=(460, 797, 368, 615), xr=(-15, 5.12),
         yr=(-1, 3.84), ytop=3.5, title=(541, 361)),
    dict(name="SG", kind="single", box=(872, 1216, 368, 614.5), xr=(-15, 5.4),
         yr=(-1, 3.11), ytop=3.0, title=(941, 361)),
    dict(name="SiG", kind="single", box=(64, 395, 693, 925), xr=(-15.05, 5.55),
         yr=(-1, 3.7), ytop=3.5, title=(142, 689)),
]

DATA = {
    "G": dict(dos=G_dos, occ=G_occ, virt=G_virt),
    "SG": dict(dos=SG_dos, occ=SG_occ, virt=SG_virt),
    "SiG": dict(dos=SiG_dos, occ=SiG_occ, virt=SiG_virt),
    "AG": dict(alpha=AG_alpha, beta=AG_beta, total=AG_total, a_occ=AG_a_occ,
               a_virt=AG_a_virt, b_occ=AG_b_occ, b_virt=AG_b_virt),
    "BG": dict(alpha=BG_alpha, beta=BG_beta, total=BG_total, a_occ=BG_a_occ,
               a_virt=BG_a_virt, b_occ=BG_b_occ, b_virt=BG_b_virt),
    "NG": dict(alpha=NG_alpha, beta=NG_beta, total=NG_total, a_occ=NG_a_occ,
               a_virt=NG_a_virt, b_occ=NG_b_occ, b_virt=NG_b_virt),
    "PG": dict(alpha=PG_alpha, beta=PG_beta, total=PG_total, a_occ=PG_a_occ,
               a_virt=PG_a_virt, b_occ=PG_b_occ, b_virt=PG_b_virt),
}


def px(x):
    return x / W


def py(y):
    return 1 - y / H


def level_segments(levels):
    xs, ys = [], []
    for e in levels:
        xs += [e, e, None]
        ys += [0, -1, None]
    return xs, ys


fig = go.Figure()


def add_levels(levels, dash, i, name, width=1.6):
    xs, ys = level_segments(levels)
    fig.add_trace(go.Scatter(x=xs, y=ys, mode="lines", name=name, showlegend=False,
                             line=dict(color=INK, width=width, dash=dash),
                             xaxis=f"x{i}", yaxis=f"y{i}", hoverinfo="skip"))


def add_curve(points, dash, i, name, width=1.5):
    xs = [p[0] for p in points]
    ys = [p[1] for p in points]
    fig.add_trace(go.Scatter(x=xs, y=ys, mode="lines", name=name, showlegend=False,
                             line=dict(color=INK, width=width, dash=dash,
                                       shape="spline", smoothing=0.75),
                             xaxis=f"x{i}", yaxis=f"y{i}"))


tick_font = dict(family=FONT, size=23, color=INK)
layout = dict(width=W, height=H,
              margin=dict(l=0, r=0, t=0, b=0, pad=0, autoexpand=False),
              paper_bgcolor="white", plot_bgcolor="rgba(0,0,0,0)",
              showlegend=False, font=dict(family=FONT, color=INK))

annotations = []
shapes = []

for i, p in enumerate(PANELS, start=1):
    d = DATA[p["name"]]
    if p["kind"] == "single":
        add_levels(d["occ"], DASH_OCC, i, "Occupied orbitals")
        add_levels(d["virt"], DASH_VIRT, i, "Virtual orbitals")
        add_curve(d["dos"], "solid", i, "DOS spectrum")
    else:
        add_levels(d["a_occ"], DASH_A_OCC, i, "\u03b1 occupied orbitals")
        add_levels(d["a_virt"], DASH_A_VIRT, i, "\u03b1 virtual orbitals")
        add_levels(d["b_occ"], DASH_B_OCC, i, "\u03b2 occupied orbitals")
        add_levels(d["b_virt"], DASH_B_VIRT, i, "\u03b2 virtual orbitals")
        add_curve(d["total"], DASH_TOTAL, i, "Total DOS spectrum", width=1.2)
        add_curve(d["beta"], DASH_BETA, i, "\u03b2 DOS spectrum", width=1.4)
        add_curve(d["alpha"], "solid", i, "\u03b1 DOS spectrum", width=1.5)

    l, r, t, b = p["box"]
    yt = [v for v in Y_TICKS if v <= p["ytop"] + 1e-9]
    ytt = [Y_TICKTEXT[Y_TICKS.index(v)] for v in yt]
    layout[f"xaxis{i}"] = dict(
        domain=[px(l), px(r)], range=list(p["xr"]), anchor=f"y{i}", automargin=False,
        showline=True, linecolor=INK, linewidth=1.6, ticks="outside", ticklen=6,
        tickwidth=1.3, tickcolor=INK, tickvals=X_TICKS, ticktext=X_TICKTEXT,
        tickfont=tick_font, showgrid=False, zeroline=False, fixedrange=True,
        ticklabeloverflow="allow", ticklabelstandoff=-5,
        title=dict(text="Energy, eV", font=dict(family=FONT, size=22, color=INK),
                   standoff=0))
    layout[f"yaxis{i}"] = dict(
        domain=[py(b), py(t)], range=list(p["yr"]), anchor=f"x{i}", automargin=False,
        showline=True, linecolor=INK, linewidth=1.6, ticks="outside", ticklen=7,
        tickwidth=1.3, tickcolor=INK, tickvals=yt, ticktext=ytt,
        tickfont=tick_font, showgrid=False, zeroline=False, fixedrange=True)
    tx, ty = p["title"]
    annotations.append(dict(text=p["name"], x=px(tx), y=py(ty), xref="paper",
                            yref="paper", showarrow=False, xanchor="center",
                            yanchor="middle",
                            font=dict(family=FONT, size=21, color=INK)))

# ---- legends (G panel and AG panel) ----
G_LEGEND = [("DOS spectrum", "solid"), ("Occupied orbitals", DASH_OCC),
            ("Virtual orbitals", DASH_VIRT)]
G_LEG_ROWS = [50, 68, 86]
for (label, dash), yy in zip(G_LEGEND, G_LEG_ROWS):
    shapes.append(dict(type="line", xref="paper", yref="paper", x0=px(213), x1=px(243),
                       y0=py(yy), y1=py(yy), line=dict(color=INK, width=1.5, dash=dash)))
    annotations.append(dict(text=label, x=px(246), y=py(yy), xref="paper", yref="paper",
                            showarrow=False, xanchor="left", yanchor="middle",
                            font=dict(family=FONT, size=18, color=INK)))

AG_LEGEND = [("\u03b1 DOS spectrum", "solid"), ("\u03b2 DOS spectrum", DASH_BETA),
             ("Total DOS spectrum", DASH_TOTAL), ("(scaled by 0.5)", None),
             ("\u03b1 occupied orbitals", DASH_A_OCC),
             ("\u03b1 virtual orbitals", DASH_A_VIRT),
             ("\u03b2 occupied orbitals", DASH_B_OCC),
             ("\u03b2 virtual orbitals", DASH_B_VIRT)]
AG_LEG_ROWS = [20, 36, 52, 68, 85, 101, 117, 133]
for (label, dash), yy in zip(AG_LEGEND, AG_LEG_ROWS):
    if dash is not None:
        shapes.append(dict(type="line", xref="paper", yref="paper", x0=px(594),
                           x1=px(611), y0=py(yy), y1=py(yy),
                           line=dict(color=INK, width=1.4, dash=dash)))
    annotations.append(dict(text=label, x=px(613), y=py(yy), xref="paper", yref="paper",
                            showarrow=False, xanchor="left", yanchor="middle",
                            font=dict(family=FONT, size=16, color=INK)))

# ---- caption (first line justified in the source: hair spaces widen the gaps) ----
for yy in (782, 877):
    shapes.append(dict(type="line", xref="paper", yref="paper", x0=px(573), x1=px(1218),
                       y0=py(yy), y1=py(yy), line=dict(color=INK, width=2)))
caption_1 = "DOS plots of the employed nano models (CNTS and".replace(" ", " \u200a")
annotations.append(dict(
    text="<i>Fig. 3</i>. \u200a" + caption_1,
    x=px(575), y=py(815), xref="paper", yref="paper", showarrow=False,
    xanchor="left", yanchor="middle", font=dict(family=FONT, size=25.5, color=INK)))
annotations.append(dict(
    text="SCNTs) without adsorbates", x=px(888), y=py(849), xref="paper", yref="paper",
    showarrow=False, xanchor="center", yanchor="middle",
    font=dict(family=FONT, size=25.5, color=INK)))

layout["annotations"] = annotations
layout["shapes"] = shapes
fig.update_layout(**layout)
fig.write_html("out.html", config={"displayModeBar": False},
               post_script="document.body.style.margin='0';"
                           "document.body.style.overflow='hidden';")
